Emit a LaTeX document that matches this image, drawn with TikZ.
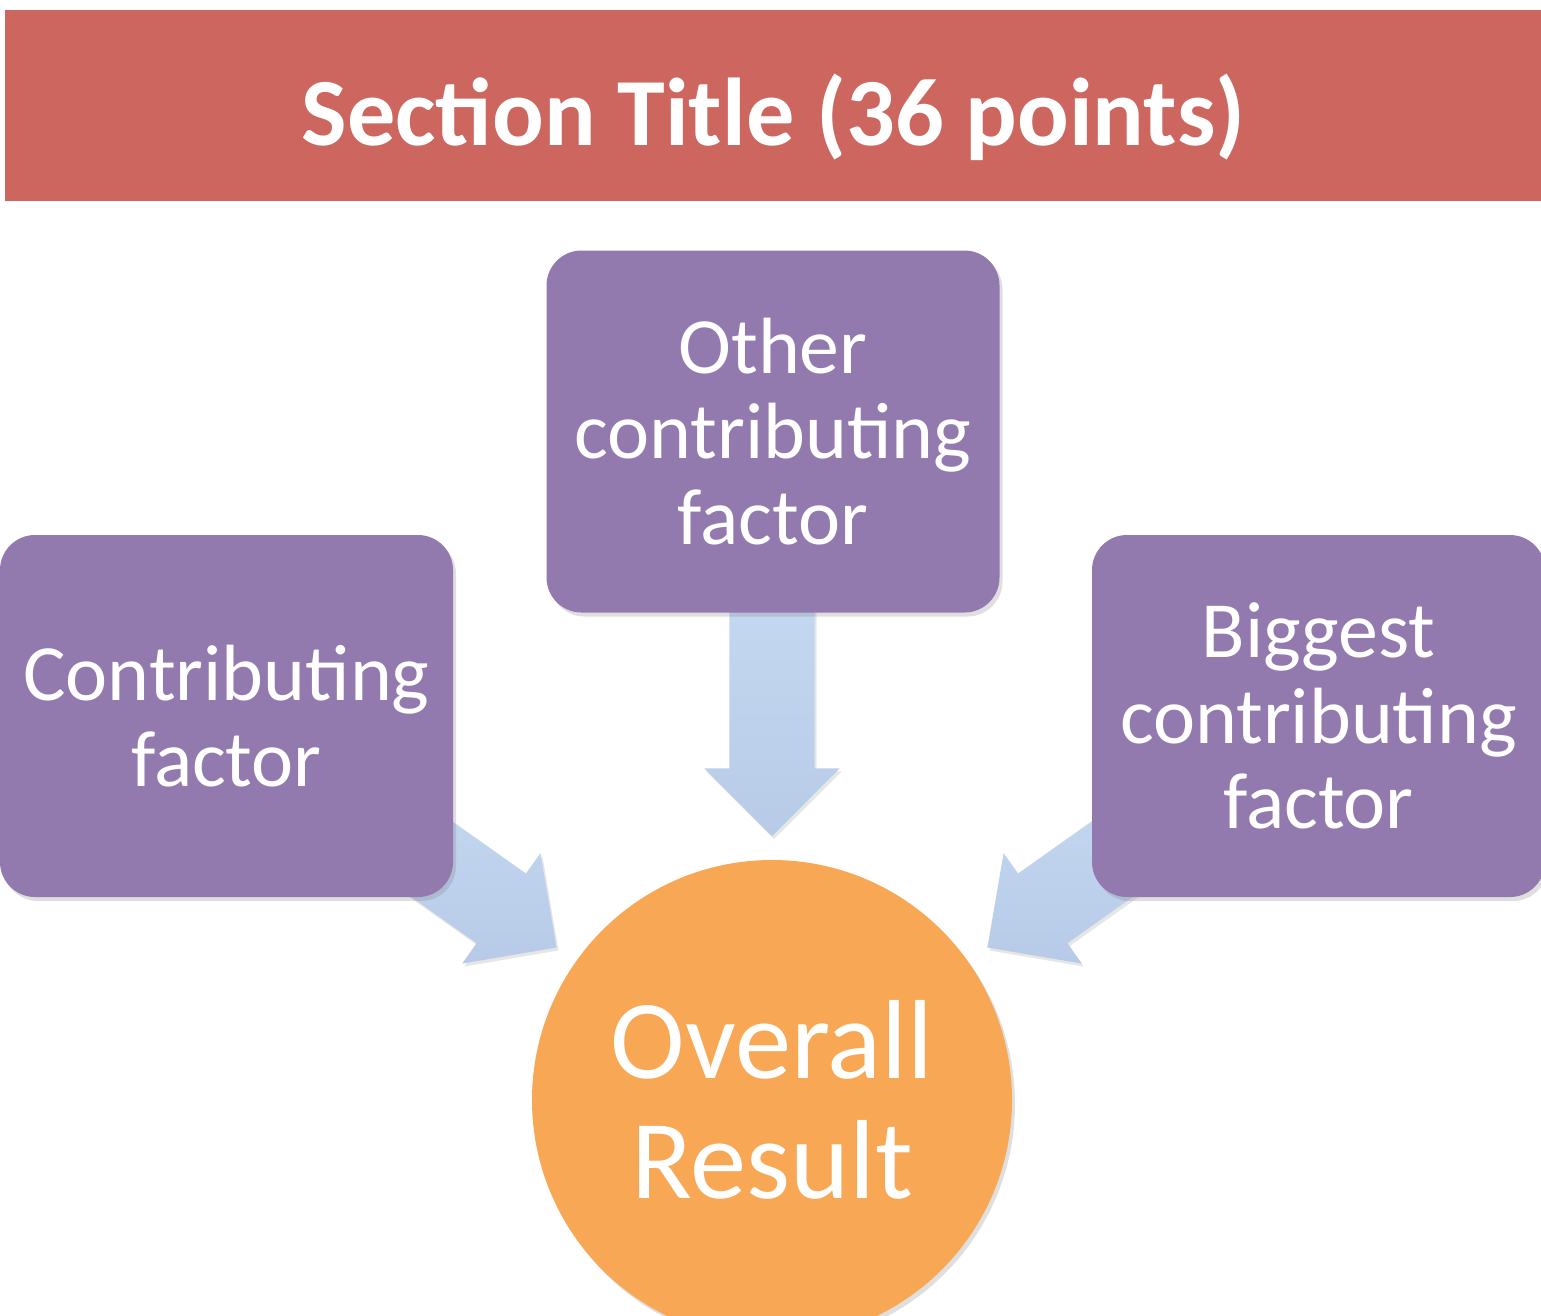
\documentclass[tikz,border=0pt]{standalone}
\usepackage{fontspec}
\setmainfont{Carlito}
\usetikzlibrary{shapes.arrows,shadows,calc}

\definecolor{titlered}{RGB}{204,102,94}
\definecolor{factorpurple}{RGB}{146,121,174}
\definecolor{resultorange}{RGB}{248,167,85}
\definecolor{feedtop}{RGB}{199,218,242}
\definecolor{feedbottom}{RGB}{183,203,232}

\begin{document}
\begin{tikzpicture}[
  softshadow/.style={drop shadow={shadow xshift=0.03cm, shadow yshift=-0.04cm, opacity=0.25}},
  factor/.style={fill=factorpurple, rounded corners=0.35cm, minimum width=4.53cm,
    minimum height=3.62cm, align=center, text=white,
    font=\fontsize{22.7}{24.3}\selectfont, softshadow},
  feeder/.style={single arrow, top color=feedtop, bottom color=feedbottom,
    minimum height=2.8cm, minimum width=1.34cm, inner xsep=0pt, inner ysep=0.42cm,
    single arrow head extend=0.25cm, single arrow tip angle=90, anchor=tip,
    drop shadow={shadow xshift=0.02cm, shadow yshift=-0.03cm, opacity=0.2}}]
\useasboundingbox (0,0) rectangle (15.41,-13.15);
\clip (0,0) rectangle (15.41,-13.15);

\fill[titlered] (0.05,-0.10) rectangle (15.45,-2.01);
\node[anchor=base, text=white, font=\fontsize{27.4}{27.4}\selectfont\bfseries] (title) at (7.735,-1.45) {Section Title (36 points)};

\node[circle, fill=resultorange, minimum size=4.8cm, inner sep=0pt, text=white, align=center,
  font=\fontsize{32}{34.1}\selectfont, softshadow] (result) at (7.72,-11.0) {Overall\\Result};

% arrows into the result
\node[feeder, rotate=-35.3] (feedL) at ($(result.center)+(144.7:2.63)$) {};
\node[feeder, rotate=-90] (feedT) at ($(result.center)+(90:2.63)$) {};
\node[feeder, rotate=-144.7] (feedR) at ($(result.center)+(35.3:2.63)$) {};

\node[factor] (other) at (7.73,-4.315) {Other\\contributing\\factor};
\node[factor] (contrib) at (2.265,-7.16) {Contributing\\factor};
\node[factor] (biggest) at (13.185,-7.16) {Biggest\\contributing\\factor};

\end{tikzpicture}
\end{document}
